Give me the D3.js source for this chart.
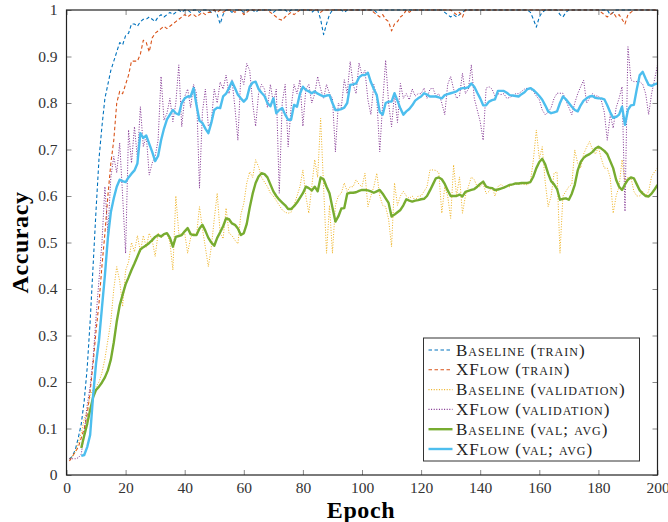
<!DOCTYPE html>
<html>
<head>
<meta charset="utf-8">
<script src="https://cdnjs.cloudflare.com/ajax/libs/d3/7.8.5/d3.min.js"></script>
<style>
  body { margin: 0; background: #fff; }
  svg { display: block; }
  .tick text { font-family: "Liberation Serif", "DejaVu Serif", serif; font-size: 15.5px; fill: #333; }
</style>
</head>
<body>
<div id="chart"></div>
<script>
// accuracy per epoch
var baselineTrain = [
  0.035, 0.04, 0.055, 0.08, 0.11, 0.16, 0.23, 0.33, 0.45, 0.57,
  0.68, 0.75, 0.81, 0.84, 0.87, 0.89, 0.91, 0.93, 0.925, 0.945,
  0.95, 0.97, 0.97, 0.965, 0.975, 0.98, 0.98, 0.985, 0.98, 0.975,
  0.985, 0.99, 0.985, 0.99, 0.995, 0.99, 0.995, 1, 0.995, 1,
  1, 0.995, 1, 1, 0.995, 1, 1, 1, 0.995, 1,
  0.99, 0.97, 0.99, 1, 1, 0.995, 1, 1, 1, 0.995,
  1, 1, 1, 0.995, 1, 1, 1, 1, 1, 0.995,
  1, 1, 1, 1, 0.995, 1, 1, 1, 1, 1,
  1, 1, 0.995, 1, 1, 0.98, 0.947, 0.97, 0.99, 1,
  1, 1, 1, 0.995, 1, 1, 1, 1, 1, 1,
  1, 1, 1, 1, 0.995, 1, 1, 1, 1, 1,
  1, 1, 1, 1, 1, 1, 1, 1, 1, 1,
  1, 1, 1, 1, 1, 1, 1, 0.995, 0.99, 0.985,
  0.99, 0.985, 0.99, 0.995, 1, 1, 1, 1, 1, 1,
  1, 1, 1, 1, 1, 1, 1, 1, 1, 1,
  1, 1, 1, 1, 1, 1, 0.995, 0.98, 0.963, 0.985,
  0.995, 1, 1, 1, 1, 1, 0.99, 0.985, 0.995, 1,
  1, 1, 1, 1, 1, 1, 1, 1, 1, 1,
  1, 1, 1, 0.99, 0.995, 1, 1, 1, 1, 1,
  1, 1, 1, 1, 1, 1, 1, 1, 1, 1
];

var xflowTrain = [
  0.03, 0.04, 0.05, 0.06, 0.08, 0.1, 0.13, 0.18, 0.24, 0.31,
  0.37, 0.45, 0.52, 0.6, 0.67, 0.72, 0.8, 0.825, 0.82, 0.84,
  0.86, 0.89, 0.89, 0.89, 0.905, 0.935, 0.93, 0.91, 0.94, 0.95,
  0.955, 0.96, 0.965, 0.96, 0.965, 0.97, 0.975, 0.98, 0.985, 0.99,
  0.985, 0.99, 0.99, 0.985, 0.99, 0.995, 0.99, 0.995, 0.995, 1,
  0.995, 1, 0.995, 1, 1, 1, 0.995, 1, 1, 0.99,
  0.995, 1, 1, 1, 1, 1, 1, 1, 0.995, 0.99,
  0.985, 0.98, 0.978, 0.985, 0.99, 0.995, 0.99, 0.995, 1, 1,
  1, 1, 1, 1, 1, 0.995, 1, 1, 1, 1,
  1, 1, 1, 1, 1, 1, 1, 1, 1, 1,
  1, 1, 1, 0.995, 0.99, 0.985, 0.99, 0.98, 0.975, 0.955,
  0.97, 0.975, 0.985, 0.99, 1, 0.995, 1, 1, 1, 1,
  1, 1, 1, 1, 1, 1, 1, 1, 1, 1,
  0.995, 0.99, 0.995, 0.985, 1, 1, 1, 1, 1, 1,
  1, 1, 1, 1, 1, 1, 1, 1, 1, 1,
  1, 1, 1, 1, 1, 1, 1, 1, 1, 1,
  1, 1, 1, 1, 1, 1, 1, 1, 1, 1,
  1, 1, 1, 1, 1, 1, 1, 1, 1, 1,
  0.995, 0.99, 0.985, 0.99, 0.995, 0.985, 0.99, 0.98, 0.97, 0.99,
  0.995, 1, 1, 1, 1, 1, 1, 1, 1, 1
];

var baselineVal = [
  0.035, 0.04, 0.05, 0.07, 0.09, 0.12, 0.14, 0.17, 0.185, 0.19,
  0.2, 0.22, 0.25, 0.29, 0.33, 0.4, 0.448, 0.417, 0.362, 0.44,
  0.458, 0.5, 0.48, 0.515, 0.48, 0.515, 0.49, 0.52, 0.505, 0.47,
  0.52, 0.51, 0.515, 0.52, 0.5, 0.441, 0.6, 0.52, 0.518, 0.52,
  0.477, 0.51, 0.52, 0.515, 0.577, 0.53, 0.489, 0.448, 0.49, 0.55,
  0.606, 0.52, 0.508, 0.574, 0.52, 0.515, 0.505, 0.497, 0.56, 0.584,
  0.628, 0.652, 0.64, 0.678, 0.663, 0.64, 0.63, 0.62, 0.606, 0.6,
  0.59, 0.58, 0.57, 0.565, 0.563, 0.565, 0.58, 0.6, 0.62, 0.656,
  0.6, 0.563, 0.62, 0.678, 0.64, 0.767, 0.62, 0.477, 0.58, 0.477,
  0.58, 0.6, 0.606, 0.628, 0.61, 0.62, 0.62, 0.635, 0.625, 0.62,
  0.649, 0.577, 0.6, 0.62, 0.649, 0.6, 0.58, 0.577, 0.55, 0.491,
  0.628, 0.58, 0.6, 0.61, 0.6, 0.595, 0.6, 0.59, 0.6, 0.6,
  0.61, 0.62, 0.656, 0.656, 0.655, 0.65, 0.563, 0.62, 0.6, 0.552,
  0.667, 0.6, 0.641, 0.563, 0.6, 0.62, 0.641, 0.635, 0.62, 0.62,
  0.627, 0.605, 0.61, 0.62, 0.6, 0.62, 0.625, 0.62, 0.62, 0.62,
  0.625, 0.626, 0.625, 0.626, 0.625, 0.624, 0.63, 0.678, 0.742, 0.68,
  0.706, 0.63, 0.577, 0.6, 0.649, 0.652, 0.477, 0.6, 0.61, 0.62,
  0.625, 0.699, 0.67, 0.66, 0.69, 0.705, 0.717, 0.7, 0.69, 0.705,
  0.68, 0.66, 0.66, 0.64, 0.563, 0.6, 0.62, 0.678, 0.63, 0.64,
  0.64, 0.61, 0.6, 0.6, 0.61, 0.6, 0.61, 0.642, 0.652, 0.66
];

var xflowVal = [
  0.035, 0.035, 0.035, 0.037, 0.045, 0.09, 0.15, 0.19, 0.25, 0.34,
  0.42, 0.5, 0.62, 0.52, 0.64, 0.685, 0.65, 0.714, 0.6, 0.477,
  0.742, 0.671, 0.749, 0.68, 0.792, 0.706, 0.73, 0.645, 0.671, 0.685,
  0.72, 0.857, 0.763, 0.778, 0.81, 0.76, 0.8, 0.882, 0.749, 0.814,
  0.83, 0.79, 0.84, 0.82, 0.617, 0.78, 0.83, 0.75, 0.76, 0.83,
  0.8, 0.845, 0.83, 0.86, 0.82, 0.85, 0.79, 0.72, 0.86, 0.84,
  0.885, 0.87, 0.8, 0.75, 0.82, 0.84, 0.83, 0.79, 0.84, 0.8,
  0.83, 0.606, 0.8, 0.84, 0.706, 0.79, 0.84, 0.82, 0.85, 0.75,
  0.83, 0.84, 0.8, 0.82, 0.857, 0.83, 0.81, 0.84, 0.82, 0.81,
  0.695, 0.8, 0.79, 0.85, 0.82, 0.889, 0.84, 0.82, 0.886, 0.86,
  0.87, 0.807, 0.775, 0.84, 0.81, 0.695, 0.8, 0.892, 0.8, 0.749,
  0.82, 0.758, 0.842, 0.81, 0.82, 0.807, 0.83, 0.815, 0.82, 0.82,
  0.832, 0.81, 0.83, 0.832, 0.815, 0.82, 0.8, 0.775, 0.84, 0.857,
  0.83, 0.81, 0.815, 0.864, 0.82, 0.83, 0.882, 0.81, 0.785, 0.76,
  0.72, 0.832, 0.835, 0.83, 0.815, 0.82, 0.818, 0.82, 0.81, 0.812,
  0.815, 0.82, 0.82, 0.825, 0.83, 0.832, 0.83, 0.825, 0.815, 0.807,
  0.785, 0.775, 0.78, 0.79, 0.81, 0.821, 0.821, 0.821, 0.805, 0.79,
  0.775, 0.8, 0.82, 0.835, 0.849, 0.8, 0.81, 0.82, 0.815, 0.815,
  0.805, 0.78, 0.72, 0.775, 0.746, 0.79, 0.81, 0.835, 0.567, 0.921,
  0.85, 0.846, 0.846, 0.846, 0.84, 0.82, 0.775, 0.82, 0.85, 0.882
];

// running averages start at epoch 5
var avgStart = 5;
var baselineAvg = [
  0.058, 0.085, 0.11, 0.14, 0.167, 0.183,
  0.19, 0.199, 0.21, 0.225, 0.248, 0.285, 0.33, 0.365, 0.388, 0.41,
  0.425, 0.441, 0.455, 0.47, 0.485, 0.49, 0.494, 0.499, 0.505, 0.512,
  0.516, 0.513, 0.518, 0.52, 0.51, 0.491, 0.512, 0.514, 0.516, 0.524,
  0.531, 0.518, 0.516, 0.516, 0.53, 0.538, 0.525, 0.51, 0.5, 0.493,
  0.51, 0.522, 0.535, 0.552, 0.55, 0.541, 0.538, 0.53, 0.516, 0.52,
  0.54, 0.575, 0.605, 0.628, 0.642, 0.649, 0.647, 0.64, 0.625, 0.61,
  0.6, 0.592, 0.586, 0.58, 0.572, 0.572, 0.578, 0.586, 0.596, 0.606,
  0.62, 0.617, 0.612, 0.62, 0.61, 0.64, 0.636, 0.62, 0.606, 0.575,
  0.545, 0.556, 0.573, 0.574, 0.605, 0.607, 0.607, 0.608, 0.611, 0.613,
  0.613, 0.612, 0.61, 0.607, 0.61, 0.613, 0.605, 0.595, 0.585, 0.556,
  0.56, 0.565, 0.57, 0.58, 0.593, 0.59, 0.588, 0.59, 0.591, 0.593,
  0.594, 0.6, 0.612, 0.625, 0.638, 0.64, 0.636, 0.626, 0.612, 0.6,
  0.6, 0.6, 0.603, 0.599, 0.609, 0.611, 0.613, 0.615, 0.62, 0.626,
  0.631, 0.62, 0.618, 0.617, 0.613, 0.614, 0.616, 0.618, 0.621, 0.624,
  0.625, 0.627, 0.627, 0.628, 0.628, 0.628, 0.63, 0.642, 0.66, 0.673,
  0.68, 0.668, 0.648, 0.632, 0.625, 0.615, 0.592, 0.594, 0.595, 0.592,
  0.605, 0.624, 0.655, 0.673, 0.682, 0.687, 0.69, 0.695, 0.702, 0.706,
  0.702, 0.697, 0.69, 0.675, 0.66, 0.635, 0.62, 0.613, 0.625, 0.635,
  0.64, 0.638, 0.625, 0.612, 0.605, 0.6, 0.599, 0.605, 0.614, 0.624
];

var xflowAvg = [
  0.041, 0.043, 0.06, 0.086, 0.17, 0.24,
  0.29, 0.36, 0.43, 0.51, 0.565, 0.595, 0.62, 0.635, 0.632, 0.63,
  0.64, 0.648, 0.655, 0.67, 0.735, 0.725, 0.73, 0.712, 0.695, 0.675,
  0.686, 0.72, 0.745, 0.765, 0.775, 0.785, 0.778, 0.775, 0.8, 0.81,
  0.814, 0.814, 0.832, 0.795, 0.762, 0.757, 0.745, 0.735, 0.757, 0.785,
  0.79, 0.789, 0.814, 0.82, 0.832, 0.846, 0.832, 0.818, 0.81, 0.803,
  0.81, 0.835, 0.844, 0.846, 0.83, 0.822, 0.815, 0.8, 0.793, 0.81,
  0.778, 0.785, 0.789, 0.775, 0.764, 0.764, 0.796, 0.792, 0.82, 0.835,
  0.828, 0.825, 0.821, 0.825, 0.82, 0.817, 0.814, 0.816, 0.817, 0.8,
  0.785, 0.785, 0.787, 0.79, 0.8, 0.839, 0.84, 0.842, 0.855, 0.86,
  0.86, 0.865, 0.845, 0.83, 0.817, 0.781, 0.775, 0.8, 0.803, 0.803,
  0.821, 0.805, 0.788, 0.775, 0.782, 0.787, 0.795, 0.805, 0.81, 0.814,
  0.821, 0.818, 0.814, 0.814, 0.814, 0.812, 0.81, 0.817, 0.819, 0.821,
  0.823, 0.825, 0.83, 0.832, 0.832, 0.834, 0.842, 0.835, 0.822, 0.81,
  0.795, 0.795, 0.803, 0.806, 0.808, 0.826, 0.826, 0.826, 0.822, 0.817,
  0.816, 0.815, 0.814, 0.819, 0.823, 0.83, 0.832, 0.828, 0.822, 0.815,
  0.807, 0.795, 0.782, 0.778, 0.78, 0.782, 0.8, 0.814, 0.808, 0.8,
  0.792, 0.785, 0.782, 0.795, 0.805, 0.81, 0.814, 0.815, 0.811, 0.81,
  0.81, 0.808, 0.795, 0.78, 0.768, 0.77, 0.775, 0.792, 0.753, 0.785,
  0.795, 0.796, 0.83, 0.86, 0.867, 0.852, 0.839, 0.837, 0.84, 0.842
];

var xTicks = [0, 20, 40, 60, 80, 100, 120, 140, 160, 180, 200];
var yTicks = [0, 0.1, 0.2, 0.3, 0.4, 0.5, 0.6, 0.7, 0.8, 0.9, 1];

var series = [
  { name: 'Baseline', tag: 'train', values: baselineTrain, start: 1, color: '#0072BD', width: 1.1, dash: '3.5,2.5' },
  { name: 'XFlow', tag: 'train', values: xflowTrain, start: 1, color: '#D95319', width: 1.1, dash: '3.5,2.5' },
  { name: 'Baseline', tag: 'validation', values: baselineVal, start: 1, color: '#EDB120', width: 1, dash: '1,1.6' },
  { name: 'XFlow', tag: 'validation', values: xflowVal, start: 1, color: '#7E2F8E', width: 1, dash: '1,1.6' },
  { name: 'Baseline', tag: 'val; avg', values: baselineAvg, start: avgStart, color: '#77AC30', width: 2.4, dash: null },
  { name: 'XFlow', tag: 'val; avg', values: xflowAvg, start: avgStart, color: '#4DBEEE', width: 2.4, dash: null }
];

var width = 668, height = 522;
var margin = { top: 10, right: 10.5, bottom: 47, left: 66.5 };
var innerW = width - margin.left - margin.right;
var innerH = height - margin.top - margin.bottom;

var svg = d3.select('#chart').append('svg').attr('width', width).attr('height', height);
var g = svg.append('g').attr('transform', `translate(${margin.left},${margin.top})`);

var x = d3.scaleLinear().domain([0, 200]).range([0, innerW]);
var y = d3.scaleLinear().domain([0, 1]).range([innerH, 0]);

// ticks point inwards on all four sides
var tickLen = 5;
var xAxis = g.append('g').attr('transform', `translate(0,${innerH})`)
  .call(d3.axisBottom(x).tickValues(xTicks).tickSize(-tickLen).tickPadding(7).tickFormat(d3.format('d')));
var yAxis = g.append('g')
  .call(d3.axisLeft(y).tickValues(yTicks).tickSize(-tickLen).tickPadding(9).tickFormat(d => d === 0 || d === 1 ? d : d.toFixed(1)));
var xTop = g.append('g').call(d3.axisTop(x).tickValues(xTicks).tickSize(-tickLen).tickFormat(''));
var yRight = g.append('g').attr('transform', `translate(${innerW},0)`)
  .call(d3.axisRight(y).tickValues(yTicks).tickSize(-tickLen).tickFormat(''));
[xAxis, yAxis, xTop, yRight].forEach(function(a) {
  a.select('.domain').remove();
  a.selectAll('.tick line').attr('stroke', '#888').attr('stroke-width', 1);
});

var line = d3.line().x(d => x(d[0])).y(d => y(d[1]));

g.append('clipPath').attr('id', 'plotclip').append('rect')
  .attr('x', 0).attr('y', -2).attr('width', innerW).attr('height', innerH + 2);

var lines = g.append('g').attr('clip-path', 'url(#plotclip)');
series.forEach(function(s) {
  var pts = s.values.map((v, i) => [s.start + i, v]);
  lines.append('path')
    .attr('d', line(pts))
    .attr('fill', 'none')
    .attr('stroke', s.color)
    .attr('stroke-width', s.width)
    .attr('stroke-dasharray', s.dash)
    .attr('stroke-linejoin', 'round');
});

// frame
g.append('rect').attr('width', innerW).attr('height', innerH)
  .attr('fill', 'none').attr('stroke', '#222').attr('stroke-width', 1.2);

// axis titles
svg.append('text')
  .attr('x', margin.left + innerW / 2 - 1).attr('y', 518)
  .attr('text-anchor', 'middle')
  .style('font-family', '"Liberation Serif", serif').style('font-weight', 'bold').style('font-size', '24px')
  .style('letter-spacing', '0.6px')
  .text('Epoch');
svg.append('text')
  .attr('transform', `translate(28,${margin.top + innerH / 2}) rotate(-90)`)
  .attr('text-anchor', 'middle')
  .style('font-family', '"Liberation Serif", serif').style('font-weight', 'bold').style('font-size', '24px')
  .style('letter-spacing', '0.6px')
  .text('Accuracy');

// legend
var legend = svg.append('g').attr('transform', 'translate(423.5,338)');
legend.append('rect').attr('width', 216).attr('height', 123)
  .attr('fill', '#fff').attr('stroke', '#333').attr('stroke-width', 1);
series.forEach(function(s, i) {
  var row = legend.append('g').attr('transform', `translate(0,${12 + i * 19.8})`);
  row.append('line').attr('x1', 5).attr('x2', 29).attr('y1', 0).attr('y2', 0)
    .attr('stroke', s.color).attr('stroke-width', s.dash ? 1.1 : 2.4).attr('stroke-dasharray', s.dash);
  row.append('text').attr('x', 32.5).attr('y', 5.5)
    .style('font-family', '"Liberation Serif", serif').style('font-size', '17px')
    .style('font-variant', 'small-caps').style('letter-spacing', '1px').attr('fill', '#222')
    .text(`${s.name} (${s.tag})`);
});
</script>
</body>
</html>
